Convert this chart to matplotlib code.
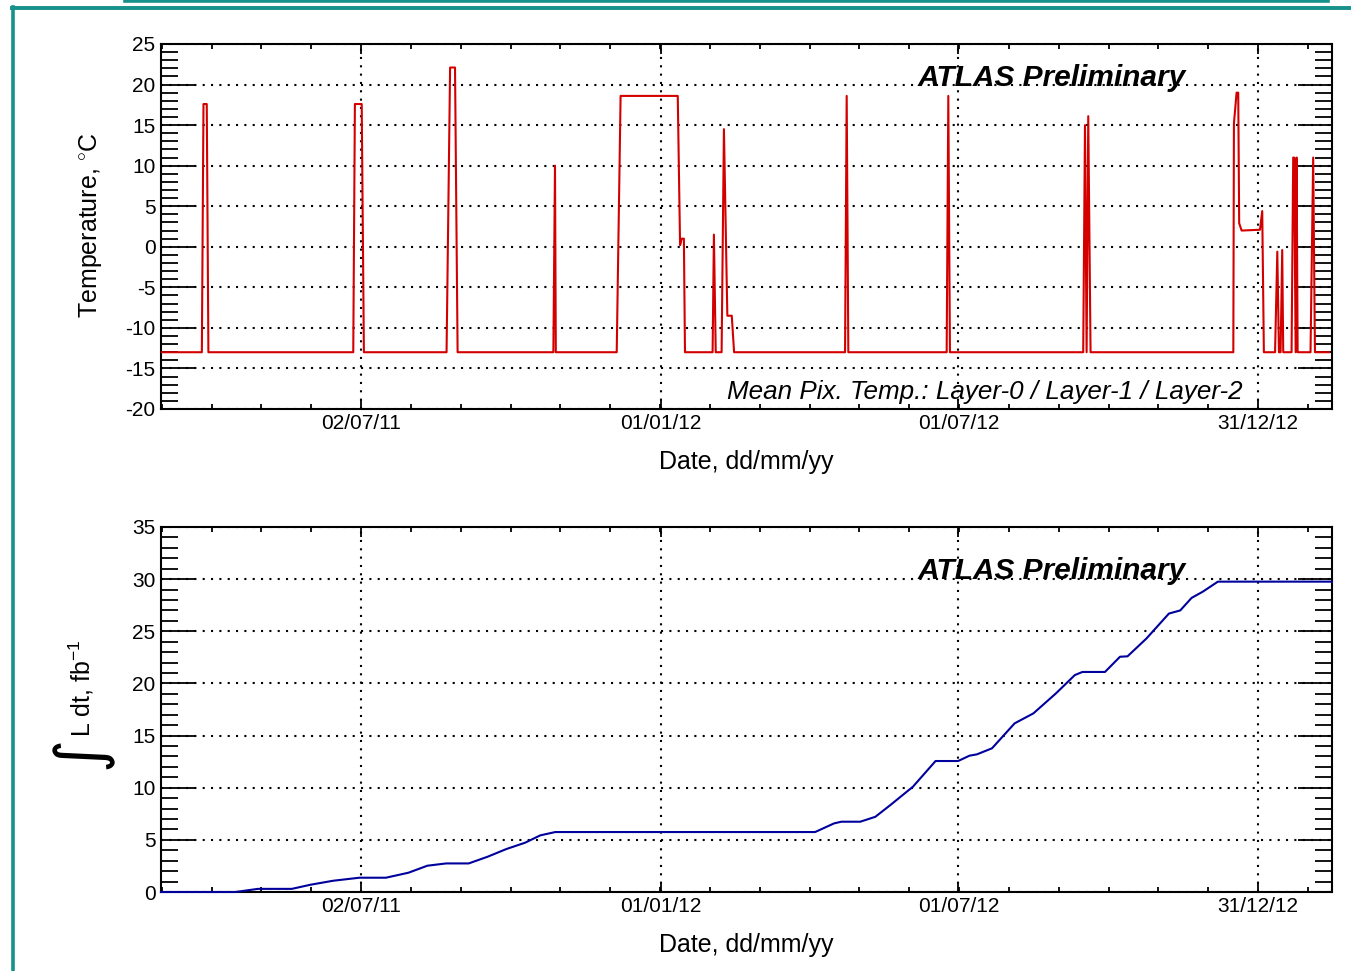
import matplotlib
matplotlib.use('Agg')
import matplotlib.pyplot as plt
import matplotlib.dates as mdates
from matplotlib.lines import Line2D
from matplotlib.ticker import FixedLocator, MultipleLocator, NullFormatter
import pandas as pd

plt.rcParams['font.family'] = ['Liberation Sans', 'DejaVu Sans']
plt.rcParams['axes.unicode_minus'] = False
plt.rcParams['mathtext.fontset'] = 'custom'
plt.rcParams['mathtext.rm'] = 'Liberation Sans'
plt.rcParams['mathtext.it'] = 'Liberation Sans:italic'

# mean pixel temperature, degC
temp_dates = [
    '2011-03-01 19:00', '2011-03-26 18:00', '2011-03-27 18:00', '2011-03-29 18:00', '2011-03-30 18:00',
    '2011-06-27 06:00', '2011-06-28 06:00', '2011-07-02 10:00', '2011-07-03 18:00',
    '2011-08-23 06:00', '2011-08-25 10:00', '2011-08-28 10:00', '2011-08-30 00:00',
    '2011-10-27 12:00', '2011-10-28 12:00', '2011-10-29 00:00',
    '2011-12-05 05:00', '2011-12-07 14:00', '2012-01-11 12:00', '2012-01-12 22:00',
    '2012-01-13 22:00', '2012-01-15 06:00', '2012-01-15 22:00',
    '2012-02-01 19:00', '2012-02-02 14:00', '2012-02-03 17:00', '2012-02-07 07:00',
    '2012-02-08 17:00', '2012-02-10 19:00', '2012-02-13 12:00', '2012-02-14 22:00',
    '2012-04-22 17:00', '2012-04-23 17:00', '2012-04-24 17:00',
    '2012-06-23 19:00', '2012-06-24 19:00', '2012-06-25 19:00',
    '2012-09-15 05:00', '2012-09-16 07:00', '2012-09-17 07:00', '2012-09-18 07:00', '2012-09-19 17:00',
    '2012-12-15 22:00', '2012-12-16 07:00', '2012-12-17 22:00', '2012-12-18 22:00',
    '2012-12-19 12:00', '2012-12-21 00:00', '2013-01-01 05:00', '2013-01-02 14:00', '2013-01-03 14:00',
    '2013-01-10 10:00', '2013-01-11 19:00', '2013-01-12 19:00', '2013-01-13 19:00',
    '2013-01-14 19:00', '2013-01-15 10:00', '2013-01-20 12:00', '2013-01-21 12:00',
    '2013-01-22 02:00', '2013-01-23 00:00', '2013-01-23 14:00', '2013-01-24 05:00',
    '2013-02-01 02:00', '2013-02-02 17:00', '2013-02-03 19:00', '2013-02-12 07:00',
]
temp_values = [
    -13, -13, 17.6, 17.6, -13,
    -13, 17.6, 17.6, -13,
    -13, 22.1, 22.1, -13,
    -13, 10.0, -13,
    -13, 18.6, 18.6, 0.2,
    1.0, 1.0, -13,
    -13, 1.5, -13, -13,
    14.5, -8.5, -8.5, -13,
    -13, 18.6, -13,
    -13, 18.6, -13,
    -13, 15.0, -13, 16.1, -13,
    -13, 15.2, 19.0, 19.0,
    2.9, 2.0, 2.1, 4.4, -13,
    -13, -0.6, -13, -13,
    -0.4, -13, -13, 11.0,
    11.0, -13, 11.0, -13,
    -13, 11.0, -13, -13,
]

# integrated luminosity, fb^-1
lumi_dates = [
    '2011-03-01 19:00', '2011-04-16 05:00', '2011-04-30 00:00', '2011-05-20 17:00',
    '2011-06-01 05:00', '2011-06-15 00:00', '2011-07-01 00:00', '2011-07-17 05:00',
    '2011-07-31 00:00', '2011-08-11 12:00', '2011-08-23 00:00', '2011-09-05 19:00',
    '2011-09-17 07:00', '2011-09-28 19:00', '2011-10-10 07:00', '2011-10-19 12:00',
    '2011-10-28 17:00', '2012-04-04 10:00', '2012-04-16 00:00', '2012-04-20 12:00',
    '2012-05-02 00:00', '2012-05-11 05:00', '2012-05-20 10:00', '2012-06-03 05:00',
    '2012-06-17 00:00', '2012-06-30 19:00', '2012-07-07 17:00', '2012-07-12 07:00',
    '2012-07-21 12:00', '2012-08-04 07:00', '2012-08-15 19:00', '2012-08-29 14:00',
    '2012-09-10 02:00', '2012-09-14 17:00', '2012-09-28 12:00', '2012-10-07 17:00',
    '2012-10-12 07:00', '2012-10-23 19:00', '2012-11-06 14:00', '2012-11-13 12:00',
    '2012-11-20 10:00', '2012-11-27 07:00', '2012-12-06 12:00', '2013-02-14 05:00',
]
lumi_values = [
    0, 0, 0.3, 0.3,
    0.7, 1.08, 1.37, 1.37,
    1.85, 2.52, 2.74, 2.74,
    3.38, 4.12, 4.73, 5.43,
    5.75, 5.75, 6.58, 6.74,
    6.74, 7.21, 8.34, 10.1,
    12.56, 12.56, 13.07, 13.2,
    13.78, 16.17, 17.13, 19.05,
    20.8, 21.1, 21.1, 22.56,
    22.6, 24.3, 26.7, 27.0,
    28.2, 28.8, 29.76, 29.76,
]

date_labels = ['02/07/11', '01/01/12', '01/07/12', '31/12/12']
x_range = ['2011-03-01 19:00', '2013-02-14 05:00']

W, H = 1351, 971
fig = plt.figure(figsize=(W / 100, H / 100), dpi=100)


def fx(px):
    return px / W


def fy(py):
    return 1 - py / H


teal = '#17918c'
fig.add_artist(Line2D([fx(125), fx(1328)], [fy(0.6), fy(0.6)], color=teal, lw=2.6, transform=fig.transFigure))
fig.add_artist(Line2D([fx(12), fx(1351)], [fy(8.5), fy(8.5)], color=teal, lw=2.8, transform=fig.transFigure))
fig.add_artist(Line2D([fx(13.3), fx(13.3)], [fy(7), fy(971)], color=teal, lw=2.6, transform=fig.transFigure))

major_dates = mdates.date2num(pd.to_datetime(date_labels, format='%d/%m/%y'))
minor_step = (major_dates[-1] - major_dates[0]) / 18
xlim = mdates.date2num(pd.to_datetime(x_range))
minor_dates = [major_dates[0] + k * minor_step for k in range(-5, 22)]
minor_dates = [m for m in minor_dates if xlim[0] <= m <= xlim[1]]


def style_axes(ax, ylo, yhi, atlas_y):
    ax.set_xlim(xlim)
    ax.set_ylim(ylo, yhi)
    ax.xaxis.set_major_locator(FixedLocator(major_dates))
    ax.xaxis.set_minor_locator(FixedLocator(minor_dates))
    ax.set_xticklabels(date_labels)
    ax.xaxis.set_minor_formatter(NullFormatter())
    ax.yaxis.set_major_locator(MultipleLocator(5))
    ax.yaxis.set_minor_locator(MultipleLocator(1))
    ax.tick_params(which='both', direction='in', top=True, right=True, width=1.3, labelsize=15)
    ax.tick_params(axis='x', which='major', length=7.5, pad=3.5)
    ax.tick_params(axis='x', which='minor', length=3.8)
    ax.tick_params(axis='y', which='major', length=24.5, pad=4)
    ax.tick_params(axis='y', which='minor', length=12.5)
    for s in ax.spines.values():
        s.set_linewidth(1.5)
    ax.grid(True, which='major', color='black', linestyle=(0, (1, 3)), linewidth=1.5)
    ax.set_xlabel('Date, dd/mm/yy', fontsize=18)
    ax.xaxis.set_label_coords(0.5, -0.113)
    ax.text(0.6465, atlas_y, 'ATLAS Preliminary', transform=ax.transAxes, fontsize=21.5,
            fontweight='bold', fontstyle='italic', va='baseline', ha='left')


ax1 = fig.add_axes([fx(161), fy(409), fx(1332) - fx(161), fy(44) - fy(409)])
ax1.plot(mdates.date2num(pd.to_datetime(temp_dates)), temp_values, color='#d40000', lw=1.5, zorder=3)
style_axes(ax1, -20, 25, 0.886)
ax1.text(0.4833, 0.0274, 'Mean Pix. Temp.: Layer-0 / Layer-1 / Layer-2', transform=ax1.transAxes,
         fontsize=18.7, fontstyle='italic', va='baseline', ha='left')
fig.text(fx(91), fy(225), 'Temperature, $^{\\circ}$C', rotation=90, fontsize=18, ha='center', va='center')

ax2 = fig.add_axes([fx(161), fy(892), fx(1332) - fx(161), fy(527) - fy(892)])
ax2.plot(mdates.date2num(pd.to_datetime(lumi_dates)), lumi_values, color='#00009c', lw=1.5, zorder=3,
         clip_on=False)
style_axes(ax2, 0, 35, 0.858)
fig.text(fx(81), fy(688), 'L dt, fb$^{-1}$', rotation=90, fontsize=18, ha='center', va='center')
fig.text(fx(81), fy(752), '\u222b', rotation=90, fontsize=46, ha='center', va='center',
         family=['DejaVu Sans'])

fig.savefig('out.png', dpi=100)
